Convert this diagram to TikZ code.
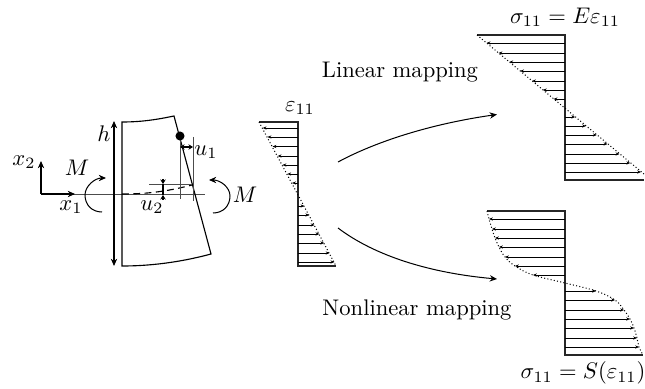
\documentclass[tikz,border=0pt]{standalone}
\usepackage{amsmath,amssymb,amsfonts}
\usetikzlibrary{calc,positioning,arrows.meta}

\begin{document}
\begin{tikzpicture}[x=0.4425pt, y=-0.4425pt,
    thinline/.style={line width=0.25pt, black!70},
    hatch/.style={line width=0.4pt, -{Stealth[length=1.7pt,width=1.4pt]}},
    profile/.style={line width=0.5pt, black!85},
    edgeline/.style={densely dotted, line width=0.45pt},
    bigarrow/.style={line width=0.45pt, -{Stealth[length=3.2pt,width=2.8pt]}}]
  \useasboundingbox (0,0) rectangle (645,389);

  % Axes
  \coordinate (o) at (41,194);
  \coordinate (x2tip) at (41,161);
  \coordinate (x1tip) at (75,194);
  \draw[thinline] (o)--(205,194);
  \draw[bigarrow] (o)--(x2tip);
  \draw[bigarrow] (o)--(x1tip);
  \node (x2) at (24,162) {$x_2$};
  \node (x1) at (71,207) {$x_1$};

  % Beam
  \draw[line width=0.5pt] (122,122) .. controls (140,122) and (155,120) .. (174,116)
    -- (211,254) .. controls (185,261) and (155,266) .. (122,266) -- cycle;
  \coordinate (htop) at (114,121);
  \coordinate (hbot) at (114,266);
  \draw[bigarrow, {Stealth[length=3.2pt,width=2.8pt]}-{Stealth[length=3.2pt,width=2.8pt]}] (htop)--(hbot);
  \node (h) at (104,134) {$h$};

  % Moments
  \draw[bigarrow] (102,212) .. controls (92,212) and (85,205) .. (85,195) .. controls (85,186) and (95,178) .. (106,178);
  \draw[bigarrow] (213,213) .. controls (223,213) and (230,206) .. (230,196) .. controls (230,187) and (220,180) .. (209,180);
  \node (ml) at (77,168) {$M$};
  \node (mr) at (245,195) {$M$};

  % Displacements
  \draw[line width=0.5pt, densely dashed] (122,194) .. controls (145,194) and (165,192) .. (192,185);
  \draw[thinline] (149,184)--(192,184);
  \draw[thinline] (180,136)--(180,199);
  \draw[thinline] (193,137)--(193,201);
  \node[circle, fill=black, inner sep=0pt, minimum size=4pt] (dot) at (180,136) {};
  \coordinate (u1a) at (180,147);
  \coordinate (u1b) at (193,147);
  \draw[line width=0.45pt, {Stealth[length=2pt,width=2.4pt]}-{Stealth[length=2pt,width=2.4pt]}] (u1a)--(u1b);
  \coordinate (u2a) at (163,184);
  \coordinate (u2b) at (163,195);
  \draw[line width=0.45pt, -{Stealth[length=2pt,width=2.4pt]}] (163,179)--(u2a);
  \draw[line width=0.45pt, -{Stealth[length=2pt,width=2.4pt]}] (163,200)--(u2b);
  \draw[line width=0.45pt] (u2a)--(u2b);
  \node (u1) at (206,152) {$u_1$};
  \node (u2) at (152,207) {$u_2$};

  % Strain profile
  \draw[profile] (259,122)--(298,122)--(298,266)--(336,266);
  \draw[edgeline] (259,122)--(336,266);
  \foreach \y in {128,137,146.5,156,165,174,183,206,215,225,234,243,253,262}
    \draw[hatch] (298,\y)--({298+(\y-194)*0.535},\y);
  \node (eps) at (300,108) {$\varepsilon_{11}$};

  % Linear stress
  \draw[profile] (477,35)--(565,35)--(565,180)--(644,180);
  \draw[edgeline] (477,35)--(644,174);
  \foreach \y in {43,53,62,71,81,90,99,117,126,135,144,154,163,172}
    \draw[hatch] (565,\y)--({565+(\y-108.5)*1.197},\y);
  \node (lin) at (565,17) {$\sigma_{11}=E\varepsilon_{11}$};

  % Nonlinear stress
  \draw[profile] (487,211)--(565,211)--(565,355)--(643,355);
  \draw[edgeline] plot[smooth, tension=0.6] coordinates {(487,211) (489,219) (492,229) (495,238) (499,247) (505,257) (515,266) (533,275) (565,283) (596,291) (615,300) (624,310) (630,319) (634,328) (637,338) (639,347) (643,355)};
  \foreach \y/\xe in {219/489,229/492,238/495,247/499,257/505,266/515,275/533,291/596,300/615,310/624,319/630,328/634,338/637,347/639}
    \draw[hatch] (565,\y)--(\xe,\y);
  \node (nonlin) at (583,373) {$\sigma_{11}=S(\varepsilon_{11})$};

  % Mappings
  \coordinate (la) at (338,162);
  \coordinate (lb) at (497,114.5);
  \coordinate (na) at (338,228);
  \coordinate (nb) at (497,279);
  \draw[bigarrow] (la) .. controls (375,142) and (430,124) .. (lb);
  \draw[bigarrow] (na) .. controls (375,256) and (430,273) .. (nb);
  \node (llab) at (400,72) {Linear mapping};
  \node (nlab) at (417,310) {Nonlinear mapping};
\end{tikzpicture}
\end{document}
